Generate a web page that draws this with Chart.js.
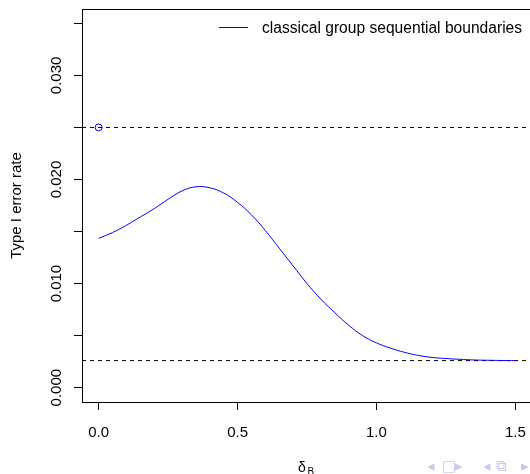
<!DOCTYPE html>
<html lang="en">
<head>
  <meta charset="UTF-8" />
  <title>Type I error rate</title>
  <script src="https://cdn.jsdelivr.net/npm/chart.js"></script>
  <style>
    html, body { margin: 0; padding: 0; background: #fff; overflow: hidden; }
    .wrap { position: relative; width: 540px; height: 474px; }
    .nav { position: absolute; top: 456px; line-height: 20px; font-family: "DejaVu Sans", sans-serif; font-size: 15px; color: #c6cae6; }
  </style>
</head>
<body>
<div class="wrap">
  <canvas id="chart" width="540" height="474"></canvas>
  <span class="nav" style="left:427px">&#9666;</span>
  <span class="nav" style="left:442px">&#9633;</span>
  <span class="nav" style="left:455px">&#9656;</span>
  <span class="nav" style="left:483px">&#9666;</span>
  <span class="nav" style="left:496px">&#10697;</span>
  <span class="nav" style="left:521px">&#9656;</span>
</div>
<script>
  // values
  const deltaB = [0, 0.05, 0.10, 0.15, 0.20, 0.25, 0.30, 0.35, 0.40, 0.45, 0.50,
    0.55, 0.60, 0.65, 0.70, 0.75, 0.80, 0.85, 0.90, 0.95, 1.00,
    1.05, 1.10, 1.15, 1.20, 1.25, 1.30, 1.35, 1.40, 1.45, 1.50];
  const typeIError = [0.01435, 0.0149, 0.0156, 0.0164, 0.0172, 0.0181, 0.0189, 0.0193, 0.0192, 0.0187, 0.0178,
    0.0166, 0.0151, 0.0134, 0.0117, 0.0100, 0.0085, 0.0072, 0.0060, 0.0050, 0.0043,
    0.0038, 0.0034, 0.0031, 0.0029, 0.0028, 0.00272, 0.00266, 0.00263, 0.00261, 0.0026];
  const alphaTotal = 0.025;
  const alphaFloor = 0.0026;
  const xRange = [-0.06, 1.56];
  const yRange = [-0.00138, 0.03638];
  const xTickValues = [0, 0.5, 1.0, 1.5];
  const xTickLabels = ['0.0', '0.5', '1.0', '1.5'];
  const yTickValues = [0, 0.01, 0.02, 0.03];
  const yTickLabels = ['0.000', '0.010', '0.020', '0.030'];
  const legendLabel = 'classical group sequential boundaries';

  const FONT = '"Liberation Sans", Arial, sans-serif';
  const BLUE = '#0000ff';

  // R-style box, tick labels, axis titles and legend
  const rStyle = {
    id: 'rStyle',
    afterDraw(chart) {
      const ctx = chart.ctx;
      const a = chart.chartArea;
      const xs = chart.scales.x, ys = chart.scales.y;
      ctx.save();
      ctx.setLineDash([]);
      ctx.strokeStyle = '#000';
      ctx.lineWidth = 1;
      ctx.strokeRect(Math.round(a.left) + 0.5, Math.round(a.top) + 0.5,
        Math.round(a.right - a.left), Math.round(a.bottom - a.top));

      ctx.fillStyle = '#000';
      ctx.font = '15px ' + FONT;
      ctx.textAlign = 'center';
      ctx.textBaseline = 'alphabetic';
      xTickValues.forEach((v, i) => {
        ctx.fillText(xTickLabels[i], xs.getPixelForValue(v), 437);
      });
      yTickValues.forEach((v, i) => {
        ctx.save();
        ctx.translate(61, ys.getPixelForValue(v));
        ctx.rotate(-Math.PI / 2);
        ctx.fillText(yTickLabels[i], 0, 0);
        ctx.restore();
      });

      // y title
      ctx.save();
      ctx.translate(21, (a.top + a.bottom) / 2);
      ctx.rotate(-Math.PI / 2);
      ctx.fillText('Type I error rate', 0, 0);
      ctx.restore();

      // x title: delta with subscript B
      ctx.font = '14px ' + FONT;
      ctx.textAlign = 'left';
      ctx.fillText('δ', 298, 472);
      ctx.font = '10px ' + FONT;
      ctx.fillText('B', 307.5, 475);

      // legend
      ctx.strokeStyle = BLUE;
      ctx.beginPath();
      ctx.moveTo(219, 27.5);
      ctx.lineTo(248, 27.5);
      ctx.stroke();
      ctx.font = '15.6px ' + FONT;
      ctx.fillStyle = '#000';
      ctx.fillText(legendLabel, 262, 33);
      ctx.restore();
    }
  };

  new Chart(document.getElementById('chart'), {
    type: 'scatter',
    data: {
      datasets: [
        {
          label: legendLabel,
          data: deltaB.map((d, i) => ({ x: d, y: typeIError[i] })),
          showLine: true,
          borderColor: BLUE,
          borderWidth: 1,
          pointRadius: 0,
          tension: 0.4
        },
        {
          label: 'alpha',
          data: [{ x: xRange[0], y: alphaTotal }, { x: xRange[1], y: alphaTotal }],
          showLine: true,
          borderColor: '#000',
          borderWidth: 1,
          borderDash: [4, 4],
          pointRadius: 0
        },
        {
          label: 'floor',
          data: [{ x: xRange[0], y: alphaFloor }, { x: xRange[1], y: alphaFloor }],
          showLine: true,
          borderColor: '#000',
          borderWidth: 1,
          borderDash: [4, 4],
          pointRadius: 0
        },
        {
          label: 'start',
          data: [{ x: deltaB[0], y: alphaTotal }],
          pointRadius: 3.5,
          pointBorderWidth: 1,
          pointBorderColor: BLUE,
          pointBackgroundColor: '#fff'
        }
      ]
    },
    options: {
      responsive: false,
      animation: false,
      layout: { padding: { top: 9, left: 0, right: 8, bottom: 0 } },
      plugins: { legend: { display: false }, tooltip: { enabled: false } },
      scales: {
        x: {
          type: 'linear',
          min: xRange[0],
          max: xRange[1],
          afterFit: s => { s.height = 72; },
          border: { display: false },
          grid: { drawOnChartArea: false, drawTicks: true, tickLength: 8, color: '#000' },
          ticks: { stepSize: 0.5, includeBounds: false, display: false }
        },
        y: {
          type: 'linear',
          min: yRange[0],
          max: yRange[1],
          afterFit: s => { s.width = 82; },
          border: { display: false },
          grid: { drawOnChartArea: false, drawTicks: true, tickLength: 8, color: '#000' },
          ticks: { stepSize: 0.005, includeBounds: false, display: false }
        }
      }
    },
    plugins: [rStyle]
  });
</script>
</body>
</html>
